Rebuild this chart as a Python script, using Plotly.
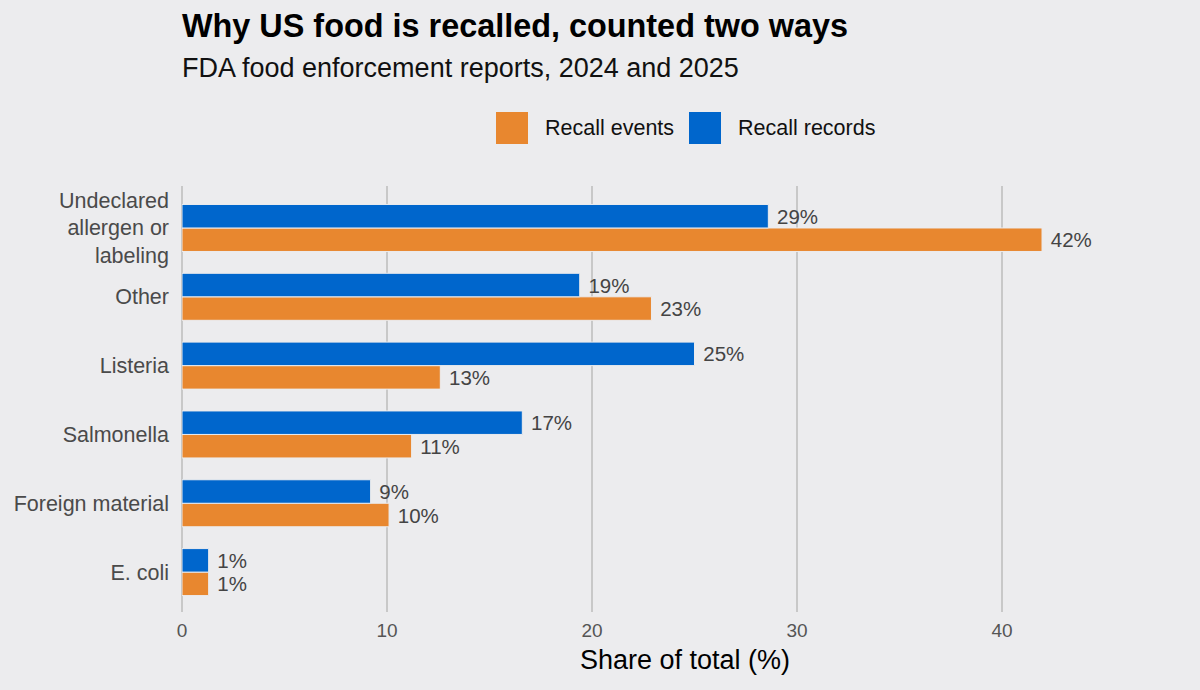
import plotly.graph_objects as go

categories = ["E. coli", "Foreign material", "Salmonella", "Listeria", "Other",
              "Undeclared<br>allergen or<br>labeling"]
events = [1.3, 10.1, 11.2, 12.6, 22.9, 41.95]
records = [1.3, 9.2, 16.6, 25.0, 19.4, 28.6]
series_names = ["Recall events", "Recall records"]

BG = "#ECECEE"
ORANGE = "#E8872F"
BLUE = "#0066CC"
FONT = "Liberation Sans"

# plot area in pixels
L, R, T, B = 182, 1188, 186, 612
def px(x):
    return (x - L) / (R - L)
def py(y):
    return (B - y) / (B - T)

fig = go.Figure()
for vals, name, col in [(events, series_names[0], ORANGE), (records, series_names[1], BLUE)]:
    fig.add_trace(go.Bar(
        y=categories, x=vals, orientation="h", name=name, showlegend=False,
        marker=dict(color=col, line=dict(color=BG, width=1)),
        texttemplate=" %{x:.0f}%", textposition="outside", cliponaxis=False,
        textfont=dict(family=FONT, size=20.5, color="#444444"),
    ))

# manual legend (large square swatches)
legend_items = [(ORANGE, series_names[0], 496, 528, 543), (BLUE, series_names[1], 689, 721, 736)]
for col, name, x0, x1, tx in legend_items:
    fig.add_shape(type="rect", xref="paper", yref="paper",
                  x0=px(x0), x1=px(x1), y0=py(144), y1=py(112),
                  fillcolor=col, line=dict(width=0))
    fig.add_annotation(xref="paper", yref="paper", x=px(tx), y=py(128),
                       xanchor="left", yanchor="middle", showarrow=False,
                       text=name, font=dict(family=FONT, size=21.5, color="#111111"))

fig.add_annotation(xref="paper", yref="paper", x=px(182), y=py(26),
                   xanchor="left", yanchor="middle", showarrow=False, xshift=-2,
                   text="<b>Why US food is recalled, counted two ways</b>",
                   font=dict(family=FONT, size=32.4, color="#000000"))
fig.add_annotation(xref="paper", yref="paper", x=px(182), y=py(68),
                   xanchor="left", yanchor="middle", showarrow=False, xshift=-2,
                   text="FDA food enforcement reports, 2024 and 2025",
                   font=dict(family=FONT, size=27, color="#111111"))

fig.update_layout(
    width=1200, height=690,
    paper_bgcolor=BG, plot_bgcolor=BG,
    barmode="group", bargap=0.317, bargroupgap=0.0,
    margin=dict(l=L, r=1200 - R, t=T, b=690 - B),
    font=dict(family=FONT, size=20, color="#444444"),
    xaxis=dict(
        range=[0, 49.07], tickvals=[0, 10, 20, 30, 40],
        showgrid=True, gridcolor="#C8C8C8", gridwidth=2,
        zeroline=True, zerolinecolor="#C8C8C8", zerolinewidth=2,
        showline=False, ticks="", ticklabelstandoff=5,
        tickfont=dict(family=FONT, size=19, color="#555555"),
        title=dict(text="Share of total (%)", standoff=10,
                   font=dict(family=FONT, size=27, color="#000000")),
    ),
    yaxis=dict(
        range=[-0.58, 5.61],
        showgrid=False, zeroline=False, showline=False, ticks="",
        ticklabelstandoff=12,
        tickfont=dict(family=FONT, size=21.5, color="#4a4a4a"),
    ),
)

fig.write_html("out.html", config={"displayModeBar": False},
               post_script="document.body.style.margin='0';")
